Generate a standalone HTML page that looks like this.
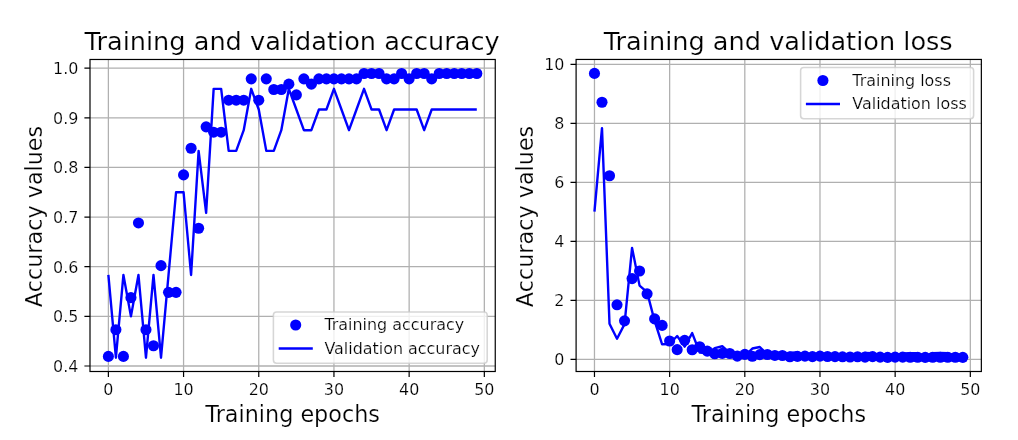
<!DOCTYPE html>
<html lang="en"><head><meta charset="utf-8"><title>Training and validation curves</title>
<style>
html,body{margin:0;padding:0;background:#fff}
svg{display:block;font-family:"DejaVu Sans","Liberation Sans",sans-serif;fill:#000}
text{stroke:#fff;stroke-width:0.2px}
</style></head><body>
<svg width="1018" height="440" viewBox="0 0 1018 440">
<rect width="1018" height="440" fill="#fff"/>
<g>
<path d="M108.38 59.48V371.5M183.57 59.48V371.5M258.76 59.48V371.5M333.95 59.48V371.5M409.14 59.48V371.5M484.33 59.48V371.5M90 365.99H495.25M90 316.35H495.25M90 266.71H495.25M90 217.07H495.25M90 167.43H495.25M90 117.79H495.25M90 68.15H495.25" stroke="#b0b0b0" stroke-width="1.27" fill="none"/>
<g fill="#0000ff"><circle cx="108.38" cy="356.38" r="5.55"/><circle cx="115.9" cy="329.69" r="5.55"/><circle cx="123.42" cy="356.38" r="5.55"/><circle cx="130.94" cy="297.67" r="5.55"/><circle cx="138.46" cy="222.94" r="5.55"/><circle cx="145.97" cy="329.69" r="5.55"/><circle cx="153.49" cy="345.71" r="5.55"/><circle cx="161.01" cy="265.64" r="5.55"/><circle cx="168.53" cy="292.33" r="5.55"/><circle cx="176.05" cy="292.33" r="5.55"/><circle cx="183.57" cy="174.9" r="5.55"/><circle cx="191.09" cy="148.21" r="5.55"/><circle cx="198.61" cy="228.28" r="5.55"/><circle cx="206.13" cy="126.86" r="5.55"/><circle cx="213.65" cy="132.2" r="5.55"/><circle cx="221.16" cy="132.2" r="5.55"/><circle cx="228.68" cy="100.18" r="5.55"/><circle cx="236.2" cy="100.18" r="5.55"/><circle cx="243.72" cy="100.18" r="5.55"/><circle cx="251.24" cy="78.83" r="5.55"/><circle cx="258.76" cy="100.18" r="5.55"/><circle cx="266.28" cy="78.83" r="5.55"/><circle cx="273.8" cy="89.5" r="5.55"/><circle cx="281.32" cy="89.5" r="5.55"/><circle cx="288.84" cy="84.16" r="5.55"/><circle cx="296.36" cy="94.84" r="5.55"/><circle cx="303.87" cy="78.83" r="5.55"/><circle cx="311.39" cy="84.16" r="5.55"/><circle cx="318.91" cy="78.83" r="5.55"/><circle cx="326.43" cy="78.83" r="5.55"/><circle cx="333.95" cy="78.83" r="5.55"/><circle cx="341.47" cy="78.83" r="5.55"/><circle cx="348.99" cy="78.83" r="5.55"/><circle cx="356.51" cy="78.83" r="5.55"/><circle cx="364.03" cy="73.49" r="5.55"/><circle cx="371.55" cy="73.49" r="5.55"/><circle cx="379.06" cy="73.49" r="5.55"/><circle cx="386.58" cy="78.83" r="5.55"/><circle cx="394.1" cy="78.83" r="5.55"/><circle cx="401.62" cy="73.49" r="5.55"/><circle cx="409.14" cy="78.83" r="5.55"/><circle cx="416.66" cy="73.49" r="5.55"/><circle cx="424.18" cy="73.49" r="5.55"/><circle cx="431.7" cy="78.83" r="5.55"/><circle cx="439.22" cy="73.49" r="5.55"/><circle cx="446.74" cy="73.49" r="5.55"/><circle cx="454.25" cy="73.49" r="5.55"/><circle cx="461.77" cy="73.49" r="5.55"/><circle cx="469.29" cy="73.49" r="5.55"/><circle cx="476.81" cy="73.49" r="5.55"/></g>
<polyline points="108.38,274.98 115.9,357.72 123.42,274.98 130.94,316.35 138.46,274.98 145.97,357.72 153.49,274.98 161.01,357.72 168.53,274.98 176.05,192.25 183.57,192.25 191.09,274.98 198.61,150.88 206.13,212.93 213.65,88.83 221.16,88.83 228.68,150.88 236.2,150.88 243.72,130.2 251.24,88.83 258.76,109.52 266.28,150.88 273.8,150.88 281.32,130.2 288.84,88.83 296.36,109.52 303.87,130.2 311.39,130.2 318.91,109.52 326.43,109.52 333.95,88.83 341.47,109.52 348.99,130.2 356.51,109.52 364.03,88.83 371.55,109.52 379.06,109.52 386.58,130.2 394.1,109.52 401.62,109.52 409.14,109.52 416.66,109.52 424.18,130.2 431.7,109.52 439.22,109.52 446.74,109.52 454.25,109.52 461.77,109.52 469.29,109.52 476.81,109.52" fill="none" stroke="#0000ff" stroke-width="2.39" stroke-linejoin="round" stroke-linecap="butt"/>
<path d="M108.38 371.5v5.6M183.57 371.5v5.6M258.76 371.5v5.6M333.95 371.5v5.6M409.14 371.5v5.6M484.33 371.5v5.6M90 365.99h-5.6M90 316.35h-5.6M90 266.71h-5.6M90 217.07h-5.6M90 167.43h-5.6M90 117.79h-5.6M90 68.15h-5.6" stroke="#000" stroke-width="1.2" fill="none"/>
<rect x="90" y="59.48" width="405.25" height="312.02" fill="none" stroke="#000" stroke-width="1.2"/>
<g font-size="15.93" text-anchor="middle"><text x="108.38" y="395.1">0</text><text x="183.57" y="395.1">10</text><text x="258.76" y="395.1">20</text><text x="333.95" y="395.1">30</text><text x="409.14" y="395.1">40</text><text x="484.33" y="395.1">50</text></g>
<g font-size="15.93" text-anchor="end"><text x="78.4" y="371.99">0.4</text><text x="78.4" y="322.35">0.5</text><text x="78.4" y="272.71">0.6</text><text x="78.4" y="223.07">0.7</text><text x="78.4" y="173.43">0.8</text><text x="78.4" y="123.79">0.9</text><text x="78.4" y="74.15">1.0</text></g>
<text x="292.62" y="422" font-size="22.3" text-anchor="middle">Training epochs</text>
<text transform="translate(42.2 216.49) rotate(-90)" font-size="22.3" text-anchor="middle">Accuracy values</text>
<text x="292.12" y="49.6" font-size="25.6" text-anchor="middle">Training and validation accuracy</text>
<rect x="273.4" y="311.9" width="213.8" height="51.35" rx="3.2" ry="3.2" fill="#fff" fill-opacity="0.8" stroke="#ccc" stroke-opacity="0.8" stroke-width="1.55"/>
<circle cx="295.7" cy="325" r="5.55" fill="#0000ff"/>
<path d="M278.7 348.5H312.8" stroke="#0000ff" stroke-width="2.39"/>
<g font-size="15.93"><text x="324.4" y="330.4">Training accuracy</text><text x="324.4" y="353.7">Validation accuracy</text></g>
</g>
<g>
<path d="M594.47 59.45V371.5M669.64 59.45V371.5M744.81 59.45V371.5M819.98 59.45V371.5M895.15 59.45V371.5M970.32 59.45V371.5M576.1 359.32H981.35M576.1 300.35H981.35M576.1 241.38H981.35M576.1 182.4H981.35M576.1 123.43H981.35M576.1 64.46H981.35" stroke="#b0b0b0" stroke-width="1.27" fill="none"/>
<g fill="#0000ff"><circle cx="594.47" cy="73.39" r="5.55"/><circle cx="601.99" cy="102.29" r="5.55"/><circle cx="609.5" cy="175.71" r="5.55"/><circle cx="617.02" cy="304.8" r="5.55"/><circle cx="624.54" cy="320.84" r="5.55"/><circle cx="632.06" cy="278.59" r="5.55"/><circle cx="639.57" cy="271.01" r="5.55"/><circle cx="647.09" cy="293.86" r="5.55"/><circle cx="654.61" cy="318.92" r="5.55"/><circle cx="662.12" cy="325.41" r="5.55"/><circle cx="669.64" cy="341.04" r="5.55"/><circle cx="677.16" cy="349.65" r="5.55"/><circle cx="684.67" cy="340.3" r="5.55"/><circle cx="692.19" cy="349.71" r="5.55"/><circle cx="699.71" cy="346.79" r="5.55"/><circle cx="707.23" cy="351.12" r="5.55"/><circle cx="714.74" cy="353.72" r="5.55"/><circle cx="722.26" cy="353.42" r="5.55"/><circle cx="729.78" cy="353.54" r="5.55"/><circle cx="737.29" cy="356.14" r="5.55"/><circle cx="744.81" cy="354.34" r="5.55"/><circle cx="752.33" cy="356.25" r="5.55"/><circle cx="759.84" cy="354.6" r="5.55"/><circle cx="767.36" cy="354.54" r="5.55"/><circle cx="774.88" cy="355.43" r="5.55"/><circle cx="782.39" cy="355.49" r="5.55"/><circle cx="789.91" cy="356.73" r="5.55"/><circle cx="797.43" cy="356.37" r="5.55"/><circle cx="804.95" cy="356.14" r="5.55"/><circle cx="812.46" cy="356.61" r="5.55"/><circle cx="819.98" cy="356.08" r="5.55"/><circle cx="827.5" cy="356.52" r="5.55"/><circle cx="835.01" cy="356.67" r="5.55"/><circle cx="842.53" cy="356.81" r="5.55"/><circle cx="850.05" cy="357.02" r="5.55"/><circle cx="857.57" cy="356.73" r="5.55"/><circle cx="865.08" cy="357.14" r="5.55"/><circle cx="872.6" cy="356.61" r="5.55"/><circle cx="880.12" cy="357.08" r="5.55"/><circle cx="887.63" cy="357.34" r="5.55"/><circle cx="895.15" cy="357.08" r="5.55"/><circle cx="902.67" cy="357.08" r="5.55"/><circle cx="910.18" cy="357.29" r="5.55"/><circle cx="917.7" cy="357.29" r="5.55"/><circle cx="925.22" cy="357.34" r="5.55"/><circle cx="932.74" cy="357.29" r="5.55"/><circle cx="940.25" cy="357.29" r="5.55"/><circle cx="947.77" cy="357.29" r="5.55"/><circle cx="955.29" cy="357.29" r="5.55"/><circle cx="962.8" cy="357.34" r="5.55"/></g>
<polyline points="594.47,211.6 601.99,128.15 609.5,323.79 617.02,338.68 624.54,324.08 632.06,247.86 639.57,285.61 647.09,292.09 654.61,320.99 662.12,344.28 669.64,343.99 677.16,336.03 684.67,346.64 692.19,333.08 699.71,352.54 707.23,353.42 714.74,348.17 722.26,346.26 729.78,352.83 737.29,356.37 744.81,355.78 752.33,348.53 759.84,347.02 767.36,354.31 774.88,356.37 782.39,356.37 789.91,352.69 797.43,352.54 804.95,356.37 812.46,356.67 819.98,356.67 827.5,356.67 835.01,356.67 842.53,356.67 850.05,356.96 857.57,356.37 865.08,352.83 872.6,353.13 880.12,356.96 887.63,357.26 895.15,356.96 902.67,353.42 910.18,353.13 917.7,353.28 925.22,356.67 932.74,353.13 940.25,352.98 947.77,353.13 955.29,356.67 962.8,357.26" fill="none" stroke="#0000ff" stroke-width="2.39" stroke-linejoin="round" stroke-linecap="butt"/>
<path d="M594.47 371.5v5.6M669.64 371.5v5.6M744.81 371.5v5.6M819.98 371.5v5.6M895.15 371.5v5.6M970.32 371.5v5.6M576.1 359.32h-5.6M576.1 300.35h-5.6M576.1 241.38h-5.6M576.1 182.4h-5.6M576.1 123.43h-5.6M576.1 64.46h-5.6" stroke="#000" stroke-width="1.2" fill="none"/>
<rect x="576.1" y="59.45" width="405.25" height="312.05" fill="none" stroke="#000" stroke-width="1.2"/>
<g font-size="15.93" text-anchor="middle"><text x="594.47" y="395.1">0</text><text x="669.64" y="395.1">10</text><text x="744.81" y="395.1">20</text><text x="819.98" y="395.1">30</text><text x="895.15" y="395.1">40</text><text x="970.32" y="395.1">50</text></g>
<g font-size="15.93" text-anchor="end"><text x="564.5" y="365.32">0</text><text x="564.5" y="306.35">2</text><text x="564.5" y="247.38">4</text><text x="564.5" y="188.4">6</text><text x="564.5" y="129.43">8</text><text x="564.5" y="70.46">10</text></g>
<text x="778.73" y="422" font-size="22.3" text-anchor="middle">Training epochs</text>
<text transform="translate(533.2 216.47) rotate(-90)" font-size="22.3" text-anchor="middle">Accuracy values</text>
<text x="778.23" y="49.6" font-size="25.6" text-anchor="middle">Training and validation loss</text>
<rect x="800.6" y="67.4" width="173" height="51.35" rx="3.2" ry="3.2" fill="#fff" fill-opacity="0.8" stroke="#ccc" stroke-opacity="0.8" stroke-width="1.55"/>
<circle cx="822.9" cy="80.5" r="5.55" fill="#0000ff"/>
<path d="M805.9 104H840" stroke="#0000ff" stroke-width="2.39"/>
<g font-size="15.93"><text x="852.3" y="85.9">Training loss</text><text x="852.3" y="109.2">Validation loss</text></g>
</g>
</svg>
</body></html>
